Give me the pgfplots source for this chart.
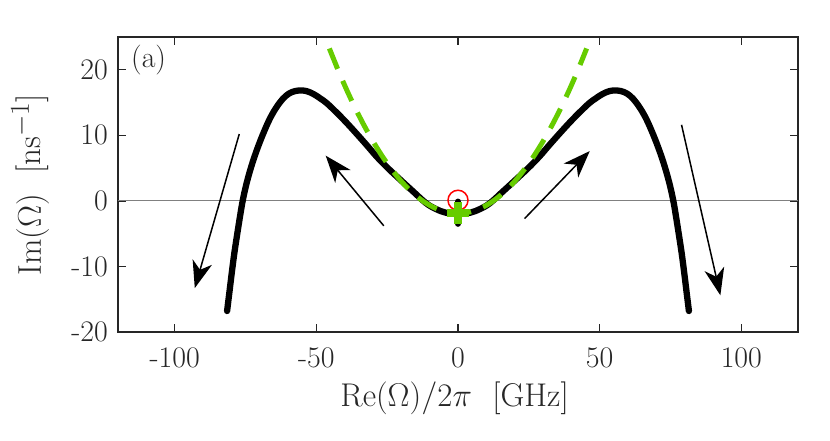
\documentclass[border=0pt]{standalone}
\usepackage{pgfplots}
\pgfplotsset{compat=1.18}
\usepackage{pgfplotstable}
\usetikzlibrary{arrows.meta}
\definecolor{mgreen}{RGB}{102,204,0}
\definecolor{axgray}{RGB}{38,38,38}
\pgfplotstableread{
x y
-81.5 -16.8
-80.7 -14.0
-79.85 -11.0
-78.95 -8.0
-77.9 -5.0
-76.8 -2.0
-76.0 0.0
-75.0 2.0
-73.8 4.0
-72.4 6.0
-70.8 8.0
-69.0 10.0
-67.0 12.0
-65.2 13.5
-62.9 15.0
-60.8 16.0
-58.6 16.6
-56.0 16.85
-53.5 16.75
-51.0 16.3
-48.5 15.6
-46.3 14.9
-42.9 13.5
-39.5 12.0
-35.9 10.3
-32.0 8.4
-28.8 6.8
-25.0 5.1
-20.8 3.4
-16.0 1.5
-11.4 -0.3
-8.0 -1.2
-4.3 -1.8
0.0 -2.0
4.3 -1.8
8.0 -1.2
11.4 -0.3
16.0 1.5
20.8 3.4
25.0 5.1
28.8 6.8
32.0 8.4
35.9 10.3
39.5 12.0
42.9 13.5
46.3 14.9
48.5 15.6
51.0 16.3
53.5 16.75
56.0 16.85
58.6 16.6
60.8 16.0
62.9 15.0
65.2 13.5
67.0 12.0
69.0 10.0
70.8 8.0
72.4 6.0
73.8 4.0
75.0 2.0
76.0 0.0
76.8 -2.0
77.9 -5.0
78.95 -8.0
79.85 -11.0
80.7 -14.0
81.5 -16.8
}\blackcurve
\pgfplotstableread{
x y
-45.4 23.25
-42 19.62
-39 16.66
-36 13.91
-33 11.39
-30 9.08
-27 6.99
-24 5.13
-21 3.48
-18 2.05
-15 0.85
-12 -0.14
-9 -0.91
-6 -1.46
-3 -1.79
0 -1.9
3 -1.79
6 -1.46
9 -0.91
12 -0.14
15 0.85
18 2.05
21 3.48
24 5.13
27 6.99
30 9.08
33 11.39
36 13.91
39 16.66
42 19.62
45.4 23.25
}\greencurve
\begin{document}
\begin{tikzpicture}
\useasboundingbox (0,0) rectangle (830bp,441bp);
\begin{axis}[
  at={(118bp,109bp)}, anchor=south west,
  scale only axis, width=680bp, height=295bp,
  xmin=-120, xmax=120, ymin=-20, ymax=25,
  xtick={-100,-50,0,50,100}, xticklabels={-100,-50,0,50,100},
  ytick={-20,-10,0,10,20}, yticklabels={-20,-10,0,10,20},
  tick align=inside, major tick length=8bp,
  axis line style={axgray, line width=1.3bp},
  every tick/.style={axgray, line width=1.3bp},
  tick label style={font=\fontsize{30}{36}\selectfont, text=axgray},
  xticklabel style={anchor=base, yshift=-36bp, inner sep=0pt},
  yticklabel style={anchor=east, inner sep=0pt, xshift=-10bp},
  clip=false,
]
\addplot[gray, line width=1.2bp, forget plot] coordinates {(-120,0) (120,0)};
\addplot[black, line width=6.3bp, line cap=round, line join=round, smooth, tension=0.6] table[x=x,y=y] {\blackcurve};
\addplot[black, line width=6bp, line cap=round] coordinates {(0,-0.1) (0,-3.5)};
\addplot[mgreen, line width=5bp, dash pattern=on 22bp off 13bp, smooth] table[x=x,y=y] {\greencurve};
\addplot[only marks, mark=o, mark size=10bp, red, line width=1.5bp] coordinates {(0,0.1)};
\addplot[only marks, mark=+, mark size=11bp, mgreen, line width=7.5bp] coordinates {(0,-1.85)};
\draw[line width=1.5bp, -{Stealth[length=27bp,width=20bp,inset=8bp]}] (axis cs:-77.2,10.2) -- (axis cs:-92.9,-13.3);
\draw[line width=1.5bp, -{Stealth[length=27bp,width=20bp,inset=8bp]}] (axis cs:-26.2,-3.8) -- (axis cs:-46.7,6.9);
\draw[line width=1.5bp, -{Stealth[length=27bp,width=20bp,inset=8bp]}] (axis cs:23.5,-2.7) -- (axis cs:46.5,7.6);
\draw[line width=1.5bp, -{Stealth[length=27bp,width=20bp,inset=8bp]}] (axis cs:78.9,11.6) -- (axis cs:92.6,-14.4);
\node[anchor=north west, inner sep=0pt, font=\fontsize{30}{36}\selectfont, text=axgray] at (rel axis cs:0,1) [xshift=13bp, yshift=-8bp] {(a)};
\node[anchor=base, inner sep=0pt, scale=1.3264, font=\fontsize{24.88}{30}\selectfont, text=axgray] at (rel axis cs:0.495,-0.254) {$\mathrm{Re}(\Omega)/2\pi$\hspace{0.62em}[GHz]};
\node[anchor=base, rotate=90, inner sep=0pt, scale=1.3264, font=\fontsize{24.88}{30}\selectfont, text=axgray] at (rel axis cs:-0.1134,0.5) {$\mathrm{Im}(\Omega)$\hspace{0.62em}[ns$^{-1}$]};
\end{axis}
\end{tikzpicture}
\end{document}
